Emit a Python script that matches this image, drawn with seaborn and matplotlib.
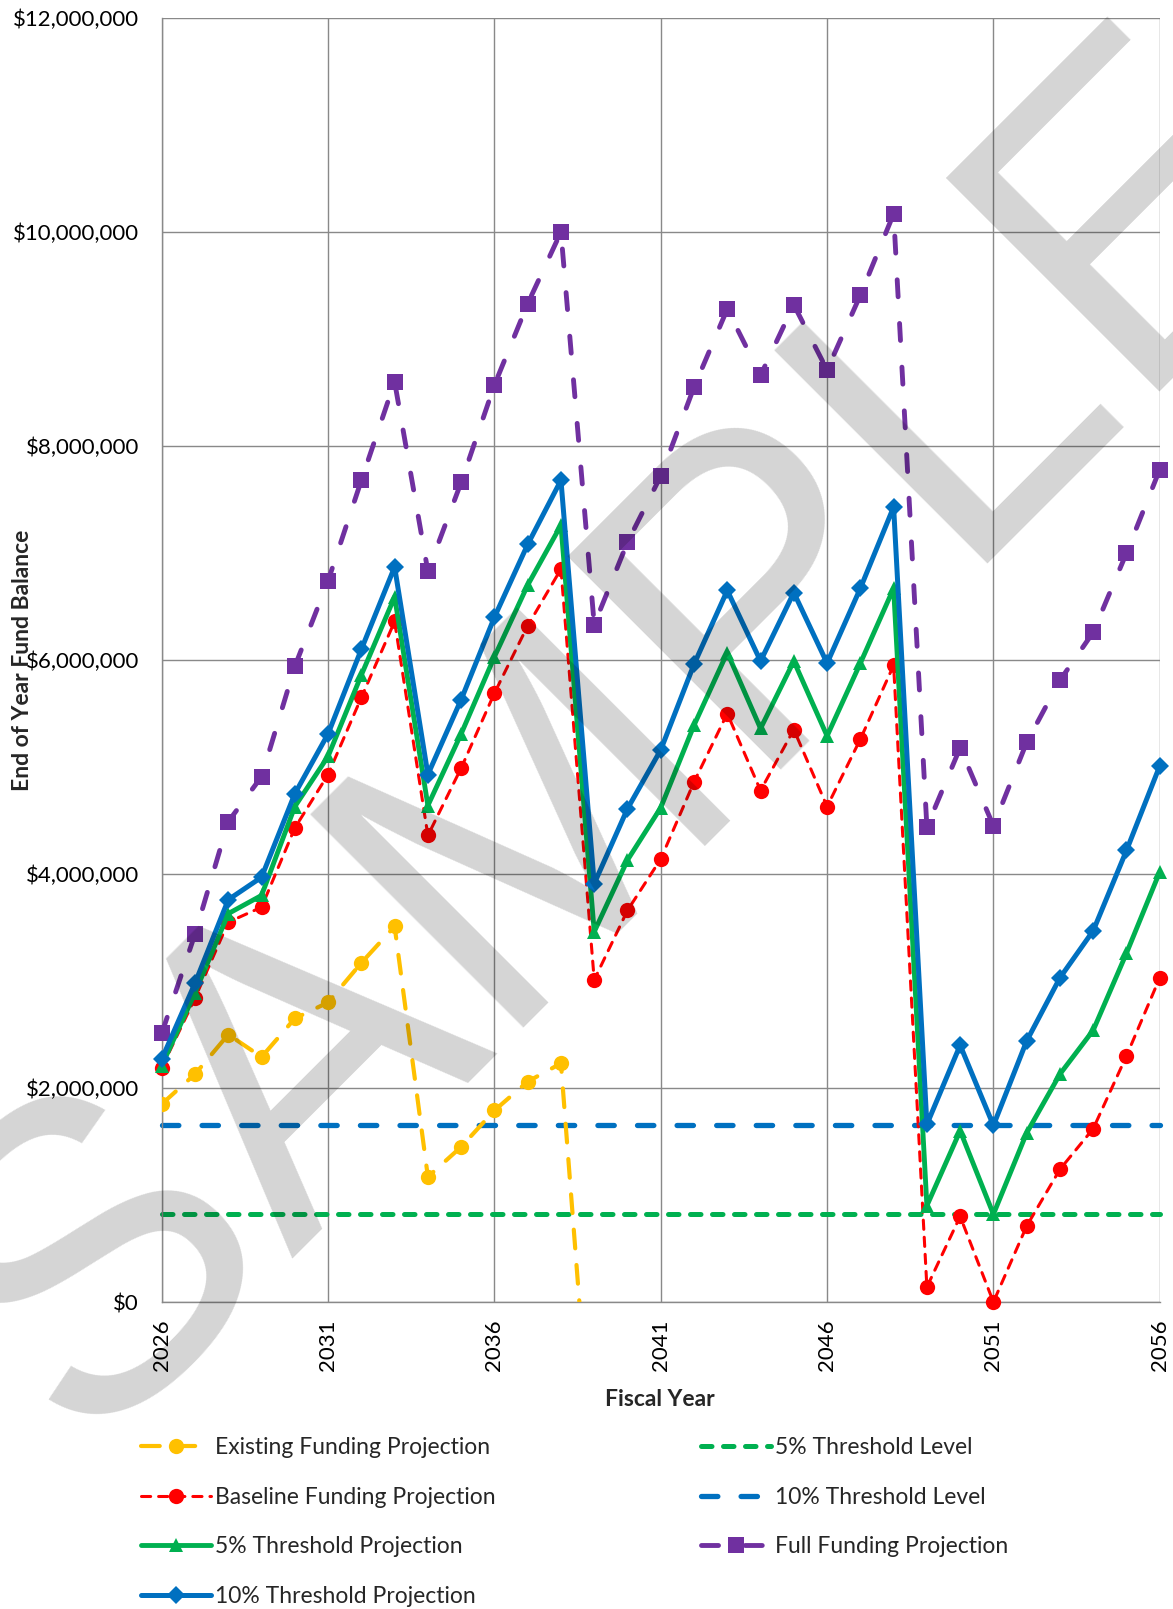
import matplotlib
matplotlib.use("Agg")
import matplotlib.pyplot as plt
import seaborn as sns
import pandas as pd
from matplotlib.ticker import FuncFormatter, MultipleLocator

# ---------------- data (dollars) ----------------
years = list(range(2026, 2057))
existing_years = list(range(2026, 2040))
existing = [1850000, 2130000, 2500000, 2290000, 2650000, 2800000, 3170000, 3510000,
            1170000, 1450000, 1790000, 2060000, 2230000, -1800000]
baseline = [2190000, 2840000, 3550000, 3690000, 4430000, 4930000, 5650000, 6360000,
            4360000, 4990000, 5690000, 6320000, 6850000, 3010000, 3660000, 4140000,
            4860000, 5500000, 4780000, 5350000, 4630000, 5260000, 5950000,
            140000, 800000, 0, 710000, 1240000, 1620000, 2300000, 3030000]
thr5_proj = [2210000, 2890000, 3630000, 3800000, 4630000, 5100000, 5860000, 6590000,
             4640000, 5310000, 6030000, 6700000, 7260000, 3460000, 4130000, 4620000,
             5390000, 6070000, 5360000, 5990000, 5290000, 5970000, 6670000,
             900000, 1600000, 820000, 1580000, 2130000, 2540000, 3260000, 4020000]
thr10_proj = [2270000, 2980000, 3760000, 3970000, 4750000, 5310000, 6100000, 6870000,
              4930000, 5630000, 6400000, 7080000, 7680000, 3910000, 4610000, 5160000,
              5960000, 6650000, 5990000, 6630000, 5970000, 6670000, 7430000,
              1660000, 2400000, 1650000, 2440000, 3030000, 3470000, 4220000, 5010000]
full_funding = [2510000, 3440000, 4490000, 4910000, 5940000, 6740000, 7680000, 8600000,
                6830000, 7660000, 8570000, 9330000, 10000000, 6330000, 7100000, 7720000,
                8550000, 9280000, 8660000, 9320000, 8710000, 9410000, 10170000,
                4440000, 5180000, 4450000, 5230000, 5810000, 6260000, 7000000, 7780000]
level5 = [820000] * len(years)
level10 = [1650000] * len(years)

x_ticks = [2026, 2031, 2036, 2041, 2046, 2051, 2056]
y_ticks = [0, 2000000, 4000000, 6000000, 8000000, 10000000, 12000000]

labels = ["Existing Funding Projection", "Baseline Funding Projection",
          "5% Threshold Projection", "10% Threshold Projection",
          "5% Threshold Level", "10% Threshold Level", "Full Funding Projection"]

# ---------------- style ----------------
sns.set_style("white")
plt.rcParams["font.family"] = ["Lato", "DejaVu Sans"]

YEL, RED, GRN, BLU, PUR = "#FFC000", "#FF0000", "#00B050", "#0070C0", "#7030A0"
GRID = "#898989"

fig = plt.figure(figsize=(11.73, 16.09), dpi=100)
ax = fig.add_axes([0.1379, 0.1908, 0.8508, 0.7980])

def draw(xv, yv, label, color, lw, dashes, marker, ms, z, clip=False):
    sns.lineplot(x=xv, y=yv, ax=ax, color=color, linewidth=lw, label=label,
                 marker=marker, markersize=ms, markeredgewidth=0,
                 markeredgecolor=color, markerfacecolor=color, zorder=z,
                 estimator=None, sort=False, clip_on=clip)
    line = ax.get_lines()[-1]
    if dashes is not None:
        line.set_dashes(dashes)
        line.set_dash_capstyle("round")
    line.set_solid_capstyle("round")
    line.set_clip_on(clip)
    return line

l_exist = draw(existing_years, existing, labels[0], YEL, 3.0, (4.5, 4.0), "o", 11, 3.2, clip=True)
l_base = draw(years, baseline, labels[1], RED, 2.2, (3.0, 2.6), "o", 11, 4)
l_5p = draw(years, thr5_proj, labels[2], GRN, 3.5, None, "^", 10.5, 5)
l_10p = draw(years, thr10_proj, labels[3], BLU, 3.6, None, "D", 9.5, 6)
l_5l = draw(years, level5, labels[4], GRN, 3.6, (2.1, 2.3), None, 0, 2.1)
l_10l = draw(years, level10, labels[5], BLU, 3.8, (3.1, 4.4), None, 0, 2.2)
l_full = draw(years, full_funding, labels[6], PUR, 3.5, (3.5, 5.5), "s", 12, 3)

if ax.get_legend() is not None:
    ax.get_legend().remove()

# ---------------- axes ----------------
ax.set_xlim(2026, 2056)
ax.set_ylim(0, 12000000)
ax.set_xticks(x_ticks)
ax.set_yticks(y_ticks)
ax.xaxis.set_minor_locator(MultipleLocator(1))
ax.yaxis.set_minor_locator(MultipleLocator(400000))
ax.yaxis.set_major_formatter(FuncFormatter(lambda v, p: "${:,.0f}".format(v)))
ax.xaxis.set_major_formatter(FuncFormatter(lambda v, p: "{:d}".format(int(round(v)))))
ax.grid(True, which="major", color=GRID, linewidth=1.0)
ax.set_axisbelow(True)
for s in ["top", "right"]:
    ax.spines[s].set_visible(False)
for s in ["left", "bottom"]:
    ax.spines[s].set_color(GRID)
    ax.spines[s].set_linewidth(1.0)

ax.tick_params(axis="both", which="major", direction="out", length=5.5, width=1.0,
               color=GRID, labelsize=16, labelcolor="black")
ax.tick_params(axis="both", which="minor", direction="in", length=3.6, width=1.0,
               color=GRID)
ax.tick_params(axis="y", which="major", pad=11)
ax.tick_params(axis="x", which="major", pad=7, labelrotation=90)
ax.set_xlabel("")
ax.set_ylabel("")

fig.text(660 / 1173, 1 - 1400 / 1609, "Fiscal Year", ha="center", va="center",
         fontsize=16.5, fontweight="bold")
fig.text(23 / 1173, 1 - 660 / 1609, "End of Year Fund Balance", ha="center",
         va="center", rotation=90, fontsize=16.5, fontweight="bold")

# ---------------- legend ----------------
leg_kw = dict(frameon=False, fontsize=16.5, handlelength=3.05, handletextpad=0.2,
              labelspacing=1.25, borderpad=0, borderaxespad=0, loc="upper left")
fig.legend([l_exist, l_base, l_5p, l_10p], labels[:4],
           bbox_to_anchor=(141 / 1173, 1 - 1437 / 1609), **leg_kw)
fig.legend([l_5l, l_10l, l_full], [labels[4], labels[5], labels[6]],
           bbox_to_anchor=(701 / 1173, 1 - 1437 / 1609), **leg_kw)

# ---------------- watermark ----------------
fig.text(628 / 1173, 1 - 743 / 1609, "SAMPLE", fontsize=315, rotation=45,
         rotation_mode="anchor", ha="center", va="center", color="black",
         alpha=0.17, family=["Liberation Sans", "DejaVu Sans"], zorder=100)

fig.savefig("out.png", dpi=100)
